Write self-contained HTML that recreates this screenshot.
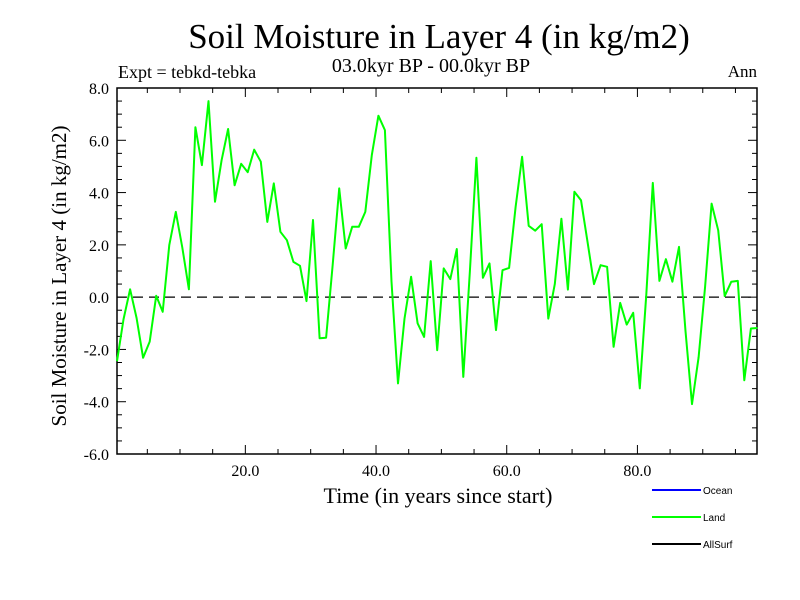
<!DOCTYPE html>
<html><head><meta charset="utf-8"><style>
html,body{margin:0;padding:0;background:#fff;}
svg{display:block;font-family:"Liberation Serif",serif;}
</style></head><body>
<svg id="chart" width="800" height="600" viewBox="0 0 800 600" xmlns="http://www.w3.org/2000/svg">
<text x="439" y="48" font-size="35" text-anchor="middle">Soil Moisture in Layer 4 (in kg/m2)</text>
<text x="118" y="78" font-size="18">Expt = tebkd-tebka</text>
<text x="431" y="72" font-size="20" text-anchor="middle">03.0kyr BP - 00.0kyr BP</text>
<text x="757" y="77" font-size="17" text-anchor="end">Ann</text>
<text transform="translate(66,276) rotate(-90)" font-size="21" text-anchor="middle">Soil Moisture in Layer 4 (in kg/m2)</text>
<text x="438" y="503" font-size="22" text-anchor="middle">Time (in years since start)</text>
<g id="axes"></g>
<g id="series"></g>
<g font-family="Liberation Sans, sans-serif" font-size="10">
<g><line x1="652" y1="490" x2="701" y2="490" stroke="#0000ff" stroke-width="2"/><text x="703" y="494">Ocean</text></g>
<g><line x1="652" y1="517" x2="701" y2="517" stroke="#00ff00" stroke-width="2"/><text x="703" y="521">Land</text></g>
<g><line x1="652" y1="544" x2="701" y2="544" stroke="#000" stroke-width="2"/><text x="703" y="548">AllSurf</text></g>
</g>
</svg>
<script>
const landValues=[-2.45,-0.85,0.3,-0.8,-2.32,-1.7,0.05,-0.56,2.0,3.26,1.9,0.3,6.5,5.05,7.5,3.65,5.24,6.43,4.28,5.1,4.78,5.64,5.18,2.88,4.35,2.5,2.18,1.35,1.2,-0.15,2.95,-1.57,-1.55,1.2,4.16,1.86,2.69,2.69,3.26,5.43,6.94,6.39,0.6,-3.3,-0.82,0.78,-1.0,-1.52,1.38,-2.03,1.1,0.69,1.84,-3.05,1.0,5.33,0.74,1.29,-1.26,1.03,1.12,3.45,5.37,2.73,2.54,2.79,-0.82,0.5,3.0,0.29,4.03,3.71,2.12,0.5,1.22,1.16,-1.9,-0.22,-1.05,-0.6,-3.49,0.1,4.37,0.62,1.45,0.59,1.92,-1.3,-4.09,-2.3,0.4,3.58,2.56,0.04,0.59,0.62,-3.18,-1.2,-1.18];
const yTickLabels=["-6.0","-4.0","-2.0","0.0","2.0","4.0","6.0","8.0"];
const yTickValues=[-6,-4,-2,0,2,4,6,8];
const xTickLabels=["20.0","40.0","60.0","80.0"];
const xTickValues=[20,40,60,80];
const X0=117,X1=757,Y0=88,Y1=454,XMIN=0.36,XMAX=98.3,YMIN=-6,YMAX=8;
function sx(v){return X0+(v-XMIN)*(X1-X0)/(XMAX-XMIN);}
function sy(v){return Y1-(v-YMIN)*(Y1-Y0)/(YMAX-YMIN);}
const NS="http://www.w3.org/2000/svg";
function mk(tag,attrs,parent){const e=document.createElementNS(NS,tag);for(const k in attrs)e.setAttribute(k,attrs[k]);parent.appendChild(e);return e;}
const axes=document.getElementById('axes');
const frame=mk('rect',{x:X0,y:Y0,width:X1-X0,height:Y1-Y0,fill:'none',stroke:'#000','stroke-width':1.5},axes);


for(let v=YMIN;v<=YMAX+1e-9;v+=0.5){
  const major=Math.abs(v/2-Math.round(v/2))<1e-9;const L=major?9:5;const y=sy(v);
  const t1=mk('line',{x1:X0,y1:y,x2:X0+L,y2:y,stroke:'#000','stroke-width':1},axes);
  
  
  const t2=mk('line',{x1:X1,y1:y,x2:X1-L,y2:y,stroke:'#000','stroke-width':1},axes);
  
  
}
yTickValues.forEach((v,i)=>{
  const t=mk('text',{x:X0-8,y:sy(v)+6,'font-size':16,'text-anchor':'end'},axes);t.textContent=yTickLabels[i];
  
  
});
for(let v=5;v<XMAX;v+=5){
  const major=v%20===0;const L=major?9:5;const x=sx(v);
  const t1=mk('line',{x1:x,y1:Y1,x2:x,y2:Y1-L,stroke:'#000','stroke-width':1},axes);
  
  
  const t2=mk('line',{x1:x,y1:Y0,x2:x,y2:Y0+L,stroke:'#000','stroke-width':1},axes);
  
  
}
xTickValues.forEach((v,i)=>{
  const t=mk('text',{x:sx(v),y:Y1+22,'font-size':16,'text-anchor':'middle'},axes);t.textContent=xTickLabels[i];
  
  
});
const zl=mk('line',{x1:X0,y1:sy(0),x2:X1,y2:sy(0),stroke:'#000','stroke-width':1.2,'stroke-dasharray':'10,6'},axes);


const series=document.getElementById('series');
const pts=landValues.map((v,i)=>sx(i+0.36).toFixed(1)+','+sy(v).toFixed(1)).join(' ');
const pl=mk('polyline',{points:pts,fill:'none',stroke:'#00ff00','stroke-width':2,'stroke-linejoin':'round'},series);


</script>
</body></html>
